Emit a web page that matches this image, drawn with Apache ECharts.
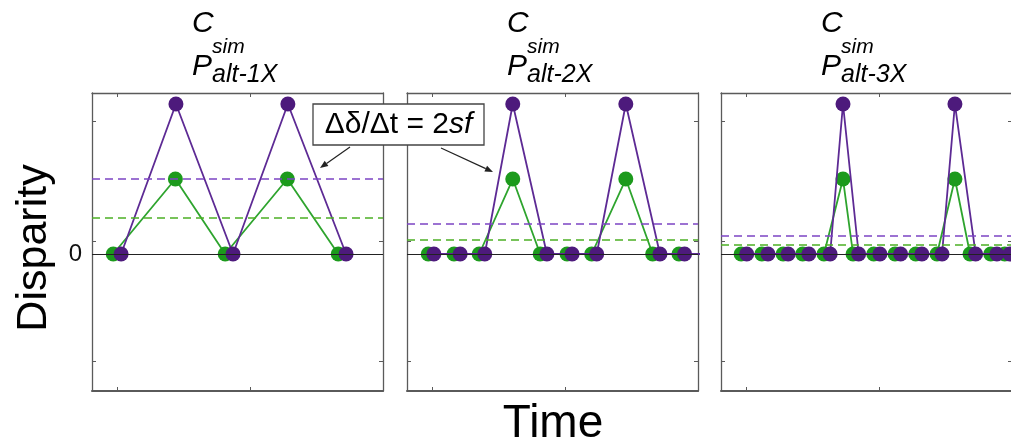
<!DOCTYPE html>
<html><head><meta charset="utf-8">
<script src="https://cdn.jsdelivr.net/npm/echarts@6/dist/echarts.min.js"></script>
<style>html,body{margin:0;padding:0;background:#fff}#c{width:1011px;height:445px}</style>
</head><body><div id="c"></div>
<script>
// ---- data ----
const panelTitles = ['alt-1X', 'alt-2X', 'alt-3X'];
const xTicks = [0.46, 2.82];
const yTicks = [-1.43, 0.17, 1.77];
const yLabels = [0];

const p1PurpleX = [0.52, 1.5, 2.52, 3.5, 4.54];
const p1PurpleY = [0, 2, 0, 2, 0];
const p1GreenX  = [0.38, 1.49, 2.38, 3.49, 4.4];
const p1GreenY  = [0, 1, 0, 1, 0];
const p1Means   = [1.0, 0.49]; // purple, green

const p2PurpleX = [0.48, 0.95, 1.39, 1.89, 2.5, 2.95, 3.39, 3.91, 4.52, 4.96, 5.41];
const p2PurpleY = [0, 0, 0, 2, 0, 0, 0, 2, 0, 0, 0];
const p2GreenX  = [0.38, 0.84, 1.29, 1.89, 2.38, 2.86, 3.3, 3.91, 4.39, 4.86, 5.3];
const p2GreenY  = [0, 0, 0, 1, 0, 0, 0, 1, 0, 0, 0];
const p2Means   = [0.4, 0.19];

const p3PurpleX = [0.46, 0.84, 1.2, 1.57, 1.95, 2.18, 2.46, 2.84, 3.21, 3.59, 3.95, 4.18, 4.55, 4.93, 5.16];
const p3PurpleY = [0, 0, 0, 0, 0, 2, 0, 0, 0, 0, 0, 2, 0, 0, 0];
const p3GreenX  = [0.36, 0.73, 1.11, 1.46, 1.84, 2.18, 2.36, 2.73, 3.11, 3.48, 3.86, 4.18, 4.45, 4.82, 5.07];
const p3GreenY  = [0, 0, 0, 0, 0, 1, 0, 0, 0, 0, 0, 1, 0, 0, 0];
const p3Means   = [0.25, 0.12];

const X_MIN = 0, X_MAX = 5.2, Y_MIN = -1.827, Y_MAX = 2.147;

// ---- styling / layout ----
const panels = [
  {px: p1PurpleX, py: p1PurpleY, gx: p1GreenX, gy: p1GreenY, m: p1Means},
  {px: p2PurpleX, py: p2PurpleY, gx: p2GreenX, gy: p2GreenY, m: p2Means},
  {px: p3PurpleX, py: p3PurpleY, gx: p3GreenX, gy: p3GreenY, m: p3Means}
];
const lefts = [92, 407, 721];
const TOP = 93, W = 291, H = 298;
const PURPLE_DOT = '#4d1a7c', PURPLE_LINE = '#5d2a94', GREEN_DOT = '#1c9a1c', GREEN_LINE = '#2ea42e';
const PURPLE_DASH = '#7c44c4', GREEN_DASH = '#4cb024';
const BORDER = '#5a5a5a';
const FONT = 'Liberation Sans, Arial, sans-serif';

const zip = (a, b) => a.map((v, i) => [v, b[i]]);

const grid = [], xAxis = [], yAxis = [], series = [], graphic = [];
panels.forEach((p, i) => {
  grid.push({left: lefts[i], top: TOP, width: W, height: H, outerBoundsMode: 'none', containLabel: false});
  ['bottom', 'top'].forEach(pos => {
    xAxis.push({
      type: 'value', gridIndex: i, position: pos, min: X_MIN, max: X_MAX,
      axisLine: {show: true, onZero: false, lineStyle: {color: BORDER, width: pos === 'bottom' ? 2 : 1.3}},
      axisTick: {show: true, inside: true, length: 4, customValues: xTicks, lineStyle: {color: BORDER, width: 1}},
      axisLabel: {show: false}, splitLine: {show: false}
    });
  });
  ['left', 'right'].forEach(pos => {
    const showLab = (i === 0 && pos === 'left');
    yAxis.push({
      type: 'value', gridIndex: i, position: pos, min: Y_MIN, max: Y_MAX,
      axisLine: {show: true, onZero: false, lineStyle: {color: BORDER, width: 1.3}},
      axisTick: {show: true, inside: true, length: 4, customValues: yTicks, lineStyle: {color: BORDER, width: 1}},
      axisLabel: showLab ? {show: true, customValues: yLabels, fontSize: 24, color: '#111', fontFamily: FONT, margin: 10} : {show: false},
      splitLine: {show: false}
    });
  });
  const xi = i * 2, yi = i * 2;
  series.push({
    type: 'line', xAxisIndex: xi, yAxisIndex: yi, data: zip(p.gx, p.gy), clip: true,
    symbol: 'circle', symbolSize: 15, itemStyle: {color: GREEN_DOT},
    lineStyle: {color: GREEN_LINE, width: 1.8}, z: 3, silent: true, animation: false,
    markLine: {
      silent: true, symbol: 'none', animation: false, label: {show: false},
      data: [
        {yAxis: 0, lineStyle: {color: '#222', width: 1.2, type: 'solid'}},
        {yAxis: p.m[1], lineStyle: {color: GREEN_DASH, width: 1.5, type: [8, 5]}}
      ]
    }
  });
  series.push({
    type: 'line', xAxisIndex: xi, yAxisIndex: yi, data: zip(p.px, p.py), clip: true,
    symbol: 'circle', symbolSize: 15, itemStyle: {color: PURPLE_DOT},
    lineStyle: {color: PURPLE_LINE, width: 1.8}, z: 4, silent: true, animation: false,
    markLine: {
      silent: true, symbol: 'none', animation: false, label: {show: false},
      data: [{yAxis: p.m[0], lineStyle: {color: PURPLE_DASH, width: 1.5, type: [8, 5]}}]
    }
  });
  // titles
  const L = lefts[i];
  graphic.push({type: 'text', z: 100, style: {x: L + 100, y: 24, text: 'C', font: 'italic 30px ' + FONT, fill: '#000', verticalAlign: 'middle'}});
  graphic.push({type: 'text', z: 100, style: {x: L + 120, y: 47, text: 'sim', font: 'italic 21px ' + FONT, fill: '#000', verticalAlign: 'middle'}});
  graphic.push({type: 'text', z: 100, style: {x: L + 100, y: 67, text: 'P', font: 'italic 30px ' + FONT, fill: '#000', verticalAlign: 'middle'}});
  graphic.push({type: 'text', z: 100, style: {x: L + 120, y: 75, text: panelTitles[i], font: 'italic 25px ' + FONT, fill: '#000', verticalAlign: 'middle'}});
});

// axis titles
graphic.push({type: 'text', z: 100, x: 34, y: 248, rotation: Math.PI / 2,
  style: {x: 0, y: 0, text: 'Disparity', font: '43px ' + FONT, fill: '#000', align: 'center', verticalAlign: 'middle'}});
graphic.push({type: 'text', z: 100, style: {x: 553, y: 424, text: 'Time', font: '46px ' + FONT, fill: '#000', align: 'center', verticalAlign: 'middle'}});

// annotation box + arrows
graphic.push({type: 'rect', z: 100, shape: {x: 313, y: 104, width: 171, height: 41}, style: {fill: '#fff', stroke: '#444', lineWidth: 1.3}});
graphic.push({type: 'text', z: 101, style: {x: 398.5, y: 125, align: 'center', verticalAlign: 'middle',
  rich: {n: {font: '30px ' + FONT, fill: '#000'}, i: {font: 'italic 30px ' + FONT, fill: '#000'}},
  text: '{n|Δδ/Δt = 2}{i|sf}'}});
function arrow(x1, y1, x2, y2) {
  const ang = Math.atan2(y2 - y1, x2 - x1), len = 8, w = 3.2;
  const bx = x2 - len * Math.cos(ang), by = y2 - len * Math.sin(ang);
  const nx = -Math.sin(ang), ny = Math.cos(ang);
  graphic.push({type: 'line', z: 100, shape: {x1: x1, y1: y1, x2: bx, y2: by}, style: {stroke: '#222', lineWidth: 1.2}});
  graphic.push({type: 'polygon', z: 100, shape: {points: [[x2, y2], [bx + nx * w, by + ny * w], [bx - nx * w, by - ny * w]]}, style: {fill: '#222'}});
}
arrow(350, 147, 320, 168);
arrow(441, 148, 493, 172);

const chart = echarts.init(document.getElementById('c'), null, {renderer: 'canvas'});
chart.setOption({animation: false, backgroundColor: '#fff', grid, xAxis, yAxis, series, graphic});
</script></body></html>
